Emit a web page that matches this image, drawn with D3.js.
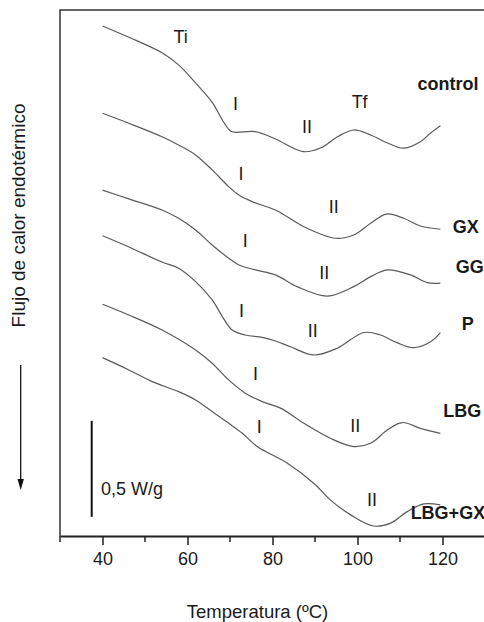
<!DOCTYPE html>
<html>
<head>
<meta charset="utf-8">
<script src="https://cdn.jsdelivr.net/npm/d3@7"></script>
<style>
  body { margin: 0; background: #fff; }
  text { font-family: "Liberation Sans", Arial, sans-serif; fill: #1a1a1a; }
</style>
</head>
<body>
<div id="chart"></div>
<script>
// Svg defs
let w = 484,
    h = 622;

// Data defs: temperature (ºC) and heat flow (W/g, offset curves)
let tempControl = [40, 46.1, 54.1, 57.9, 61.9, 65.9, 68.2, 70.1, 71.3, 76, 80.7, 87.3, 91.3, 95.3, 99.1, 103.1, 107.1, 110.8, 114.8, 117.2, 119.5];
let flowControl = [-0.083, -0.141, -0.224, -0.286, -0.380, -0.484, -0.573, -0.630, -0.637, -0.634, -0.672, -0.738, -0.719, -0.660, -0.625, -0.651, -0.693, -0.720, -0.686, -0.641, -0.603];

let tempGX = [40, 46.2, 54.0, 57.9, 61.9, 65.8, 69.7, 72.1, 75.2, 80.7, 87.4, 94.8, 99.1, 103.1, 106.8, 110.9, 114.8, 119.5];
let flowGX = [-0.538, -0.590, -0.660, -0.703, -0.755, -0.833, -0.920, -0.964, -0.998, -1.042, -1.129, -1.189, -1.172, -1.111, -1.063, -1.085, -1.125, -1.142];

let tempGG = [40, 46.2, 54.0, 57.9, 61.9, 65.8, 69.7, 72.1, 76.0, 80.7, 85.8, 92.9, 99.1, 103.1, 107.0, 112.5, 116.4, 119.5];
let flowGG = [-0.938, -0.984, -1.042, -1.085, -1.146, -1.224, -1.293, -1.328, -1.354, -1.380, -1.441, -1.490, -1.441, -1.389, -1.354, -1.380, -1.420, -1.423];

let tempP = [40, 46.1, 54.0, 57.9, 61.9, 65.8, 68.2, 70.5, 73.6, 77.6, 80.7, 84.2, 89.7, 95.2, 101.5, 105.4, 109.3, 113.2, 117.2, 119.5];
let flowP = [-1.176, -1.233, -1.313, -1.345, -1.415, -1.510, -1.597, -1.667, -1.693, -1.705, -1.724, -1.754, -1.797, -1.762, -1.680, -1.693, -1.733, -1.759, -1.728, -1.681];

let tempLBG = [40, 46.2, 54.0, 61.9, 65.8, 69.7, 73.6, 77.6, 81.9, 87.4, 93.6, 99.1, 103.1, 107.0, 110.5, 114.8, 119.5];
let flowLBG = [-1.533, -1.589, -1.667, -1.771, -1.840, -1.927, -1.996, -2.040, -2.074, -2.153, -2.231, -2.274, -2.257, -2.188, -2.149, -2.179, -2.205];

let tempLBGGX = [40, 46.2, 51.7, 57.9, 61.9, 65.8, 69.7, 72.9, 76.4, 83.5, 89.7, 93.6, 98.4, 103.8, 107.8, 111.7, 115.6, 119.5];
let flowLBGGX = [-1.811, -1.875, -1.936, -1.988, -2.031, -2.092, -2.153, -2.205, -2.274, -2.361, -2.465, -2.552, -2.630, -2.688, -2.673, -2.613, -2.573, -2.578];

let seriesNames = ["control", "GX", "GG", "P", "LBG", "LBG+GX"];
let nameTemp = [114.1, 122.4, 123.1, 124.5, 120.2, 112.5];
let nameFlow = [-0.417, -1.161, -1.370, -1.667, -2.120, -2.651];

// Transition marks (Ti, I, II, Tf)
let markText = ["Ti", "I", "II", "Tf", "I", "II", "I", "II", "I", "II", "I", "II", "I", "II"];
let markTemp = [58.4, 71.3, 88.1, 100.5, 72.6, 94.4, 73.6, 92.2, 72.7, 89.5, 76.0, 99.5, 76.9, 103.4];
let markFlow = [-0.172, -0.521, -0.641, -0.510, -0.885, -1.057, -1.234, -1.401, -1.599, -1.703, -1.927, -2.198, -2.203, -2.583];

let majorTicks = [40, 60, 80, 100, 120];
let minorTicks = [30, 50, 70, 90, 110, 130];
let scaleBar = 0.5; // W/g

let curves = [
  [tempControl, flowControl],
  [tempGX, flowGX],
  [tempGG, flowGG],
  [tempP, flowP],
  [tempLBG, flowLBG],
  [tempLBGGX, flowLBGGX]
];

// Scales
let x = d3.scaleLinear().domain([30, 130]).range([60, 485]);
let y = d3.scaleLinear().domain([-2.74, 0]).range([536, 10]);

let svg = d3.select("#chart")
  .append("svg")
  .attr("width", w)
  .attr("height", h)
  .attr("viewBox", [0, 0, w, h]);

svg.append("rect").attr("width", w).attr("height", h).attr("fill", "#fff");

// Frame (left and top)
svg.append("path")
  .attr("d", `M${x(30)},${y(-2.74)}V${y(0)}H${x(130)}`)
  .attr("fill", "none")
  .attr("stroke", "#333")
  .attr("stroke-width", 1.5);

// Bottom axis
let axis = svg.append("g")
  .attr("transform", `translate(0,${y(-2.74)})`)
  .call(d3.axisBottom(x).tickValues(majorTicks).tickSize(9).tickSizeOuter(0).tickPadding(7));
axis.select(".domain").attr("stroke", "#222").attr("stroke-width", 1.8);
axis.selectAll(".tick line").attr("stroke", "#222").attr("stroke-width", 1.5);
axis.selectAll(".tick text")
  .style("font-family", '"Liberation Sans", Arial, sans-serif')
  .style("font-size", "18px")
  .attr("fill", "#1a1a1a");

axis.append("g")
  .selectAll("line")
  .data(minorTicks)
  .join("line")
  .attr("x1", (d) => x(d))
  .attr("x2", (d) => x(d))
  .attr("y1", 0)
  .attr("y2", 6)
  .attr("stroke", "#222")
  .attr("stroke-width", 1.5);

// Curves
let line = d3.line()
  .x((d) => x(d[0]))
  .y((d) => y(d[1]))
  .curve(d3.curveCatmullRom.alpha(0.5));

svg.append("g")
  .selectAll("path")
  .data(curves)
  .join("path")
  .attr("d", (c) => line(d3.zip(c[0], c[1])))
  .attr("fill", "none")
  .attr("stroke", "#5a5a5a")
  .attr("stroke-width", 1.2);

// Transition marks
svg.append("g")
  .selectAll("text")
  .data(markText)
  .join("text")
  .attr("x", (d, i) => x(markTemp[i]))
  .attr("y", (d, i) => y(markFlow[i]))
  .attr("text-anchor", "middle")
  .style("font-size", "18px")
  .text((d) => d);

// Sample names
svg.append("g")
  .selectAll("text")
  .data(seriesNames)
  .join("text")
  .attr("x", (d, i) => x(nameTemp[i]))
  .attr("y", (d, i) => y(nameFlow[i]))
  .attr("text-anchor", "start")
  .style("font-size", "18px")
  .style("font-weight", "bold")
  .text((d) => d);

// Scale bar
let barTop = y(-2.14);
svg.append("line")
  .attr("x1", 91.7).attr("x2", 91.7)
  .attr("y1", barTop)
  .attr("y2", barTop + (y(0) - y(scaleBar)))
  .attr("stroke", "#111")
  .attr("stroke-width", 2);
svg.append("text")
  .attr("x", 101)
  .attr("y", 495)
  .style("font-size", "18px")
  .text("0,5 W/g");

// Arrow
svg.append("line")
  .attr("x1", 20.7).attr("x2", 20.7)
  .attr("y1", 365).attr("y2", 482)
  .attr("stroke", "#111")
  .attr("stroke-width", 1.3);
svg.append("path")
  .attr("d", "M17.5,479L23.9,479L20.7,490Z")
  .attr("fill", "#111");

// Axis titles
svg.append("text")
  .attr("x", 257.5)
  .attr("y", 618)
  .attr("text-anchor", "middle")
  .style("font-size", "18.5px")
  .text("Temperatura (ºC)");

svg.append("text")
  .attr("transform", "translate(25,215.5) rotate(-90)")
  .attr("text-anchor", "middle")
  .style("font-size", "19px")
  .text("Flujo de calor endotérmico");
</script>
</body>
</html>
